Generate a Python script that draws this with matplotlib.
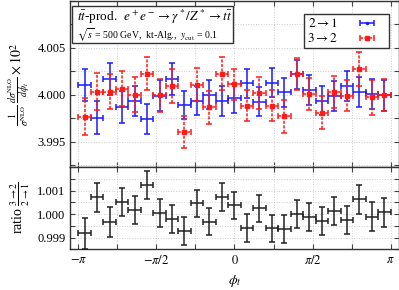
import numpy as np
import matplotlib
matplotlib.use("Agg")
import matplotlib.pyplot as plt
from matplotlib.patches import Rectangle

plt.rcParams["font.family"] = ["Liberation Serif", "DejaVu Serif"]
plt.rcParams["mathtext.fontset"] = "stix"

#===============================================================================
# data (25 bins in phi_t)
n_bins = 25
val_21 = [4.00102, 3.99754, 4.00169, 3.99870, 3.99937, 3.99743, 3.99990, 4.00168,
          3.99894, 3.99937, 4.00000, 3.99937, 3.99961, 4.00122, 3.99928, 4.00130,
          4.00028, 4.00220, 4.00053, 3.99935, 3.99989, 4.00097, 4.00033, 4.00010,
          3.99993]
err_21 = [1.70, 1.76, 1.67, 1.67, 1.58, 1.60, 1.68, 1.66, 1.51, 1.55, 1.53, 1.58,
          1.58, 1.58, 1.58, 1.53, 1.53, 1.55, 1.58, 1.55, 1.60, 1.58, 1.58, 1.62,
          1.67]
val_32 = [3.99768, 4.00035, 4.00035, 4.00067, 4.00000, 4.00222, 3.99993, 4.00094,
          3.99604, 4.00106, 3.99867, 4.00225, 4.00110, 3.99884, 4.00018, 3.99884,
          3.99772, 4.00223, 4.00005, 3.99807, 4.00028, 3.99989, 4.00271, 3.99972,
          3.99993]
err_32 = [1.94, 1.94, 1.90, 1.90, 1.87, 1.76, 1.76, 1.83, 1.75, 1.76, 1.76, 1.76,
          1.67, 1.67, 1.69, 1.67, 1.76, 1.70, 1.70, 1.76, 1.70, 1.67, 1.81, 1.90,
          1.70]
ratio = [0.99918, 1.00071, 0.99968, 1.00051, 1.00016, 1.00123, 1.00003, 0.99979,
         0.99928, 1.00045, 0.99968, 1.00073, 1.00037, 0.99941, 1.00024, 0.99939,
         0.99936, 1.00000, 0.99989, 0.99970, 1.00013, 0.99975, 1.00062, 0.99989,
         1.00007]
ratio_err = [0.66, 0.63, 0.64, 0.61, 0.60, 0.59, 0.59, 0.59, 0.59, 0.59, 0.58, 0.59,
             0.58, 0.59, 0.59, 0.59, 0.59, 0.60, 0.60, 0.59, 0.59, 0.60, 0.62, 0.63,
             0.62]

x_ticks = np.pi * np.arange(-1.0, 1.01, 0.25)
x_labels = [r"$-\pi$", "", r"$-\pi/2$", "", r"$0$", "", r"$\pi/2$", "", r"$\pi$"]

#===============================================================================
edges = np.linspace(-np.pi, np.pi, n_bins + 1)
centers = 0.5 * (edges[:-1] + edges[1:])
half = 0.5 * (edges[1] - edges[0])

blue = "#1a1aff"
red = "#ff1a1a"

fig = plt.figure(figsize=(3.99, 2.90), dpi=100)
ax = fig.add_axes([0.1764, 0.4241, 0.8226, 0.5725])
axr = fig.add_axes([0.1764, 0.1403, 0.8226, 0.2838], sharex=ax)

def style_axis(a):
    a.tick_params(direction="in", top=True, right=True, length=3.5, width=0.8,
                  labelsize=9, color="#444444")
    for s in a.spines.values():
        s.set_linewidth(1.0)
        s.set_color("#333333")
    a.grid(True, color="#cccccc", linestyle=":", linewidth=0.7)
    a.set_axisbelow(True)

style_axis(ax)
style_axis(axr)

ax.errorbar(centers, val_21, yerr=np.array(err_21) * 1e-3, xerr=half,
            fmt="none", ecolor=blue, elinewidth=1.1, capsize=2.0,
            capthick=1.1, zorder=3)
eb2 = ax.errorbar(centers, val_32, yerr=np.array(err_32) * 1e-3, xerr=half,
                  fmt="s", color=red, ms=3.2, ecolor=red, elinewidth=1.1,
                  capsize=2.0, capthick=1.1, zorder=4)
for lc in eb2[2]:
    lc.set_linestyle((0, (2, 1)))

# legend proxies: horizontal bars with caps (nan data, not drawn in the axes)
h1 = ax.errorbar([np.nan], [np.nan], xerr=[0.1], fmt="o", color=blue, ms=1.5,
                 ecolor=blue, elinewidth=1.1, capsize=2.0, capthick=1.1,
                 label=r"$2\rightarrow1$")
h2 = ax.errorbar([np.nan], [np.nan], xerr=[0.1], fmt="s", color=red, ms=3.2,
                 ecolor=red, elinewidth=1.1, capsize=2.0, capthick=1.1,
                 label=r"$3\rightarrow2$")
for lc in h2[2]:
    lc.set_linestyle((0, (2, 1)))

ax.set_xlim(-3.3, 3.3)
ax.set_ylim(3.9923, 4.0100)
ax.set_yticks(np.arange(3.9925, 4.01001, 0.0025))
ax.set_yticklabels(["", "3.995", "", "4.000", "", "4.005", "", ""])
ax.tick_params(labelbottom=False)
ax.set_ylabel(r"$\frac{1}{\sigma^{\rm NLO}}\,\frac{d\sigma^{\rm NLO}}{d\phi_t}\times 10^2$",
              fontsize=10, labelpad=4)

leg = ax.legend(handles=[h1, h2], loc="upper right", markerfirst=False,
                fontsize=9.5, fancybox=False, edgecolor="#333333",
                framealpha=1.0, handlelength=2.8, borderpad=0.25,
                labelspacing=0.15, handletextpad=0.8,
                bbox_to_anchor=(0.99, 0.962))
leg.get_frame().set_linewidth(1.0)

# process box
ax.add_patch(Rectangle((0.006, 0.745), 0.49, 0.225, transform=ax.transAxes,
                       facecolor="white", edgecolor="#333333", lw=1.0, zorder=5))
ax.text(0.02, 0.905, r"$t\bar{t}$-prod.  $e^+e^-\rightarrow\gamma^*/Z^*\rightarrow t\bar{t}$",
        transform=ax.transAxes, fontsize=9.5, va="center", zorder=6)
ax.text(0.02, 0.795, r"$\sqrt{s}$ = 500 GeV,  kt-Alg.,  $y_{\rm cut}$ = 0.1",
        transform=ax.transAxes, fontsize=7, va="center", zorder=6)

axr.errorbar(centers, ratio, yerr=np.array(ratio_err) * 1e-3, xerr=half,
             fmt="none", ecolor="#222222", elinewidth=1.1, capsize=2.0,
             capthick=1.1, zorder=3)
axr.set_ylim(0.9985, 1.0020)
axr.set_yticks(np.arange(0.9985, 1.00201, 0.0005))
axr.set_yticklabels(["", "0.999", "", "1.000", "", "1.001", "", ""])
axr.set_xticks(x_ticks)
axr.set_xticklabels(x_labels)
axr.set_xlim(-3.3, 3.3)
axr.set_ylabel(r"ratio $\frac{3\rightarrow2}{2\rightarrow1}$", fontsize=10, labelpad=4)
axr.set_xlabel(r"$\phi_t$", fontsize=10, labelpad=4)

fig.savefig("out.png", dpi=100)
